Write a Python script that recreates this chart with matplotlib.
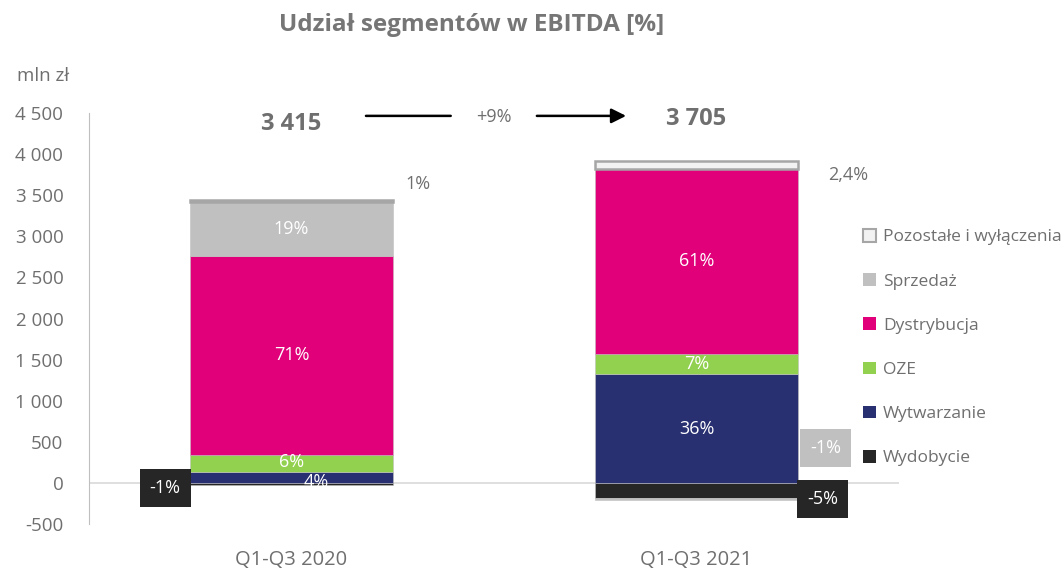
import matplotlib.pyplot as plt
from matplotlib.patches import Patch

# Data (mln zł)
periods = ["Q1-Q3 2020", "Q1-Q3 2021"]
totals = ["3 415", "3 705"]
growth = "+9%"

segments = ["Wydobycie", "Wytwarzanie", "OZE", "Dystrybucja", "Sprzedaż", "Pozostałe i wyłączenia"]
wydobycie = [-30, -180]
wytwarzanie = [130, 1320]
oze = [210, 250]
dystrybucja = [2425, 2250]
sprzedaz = [650, -25]
pozostale = [30, 90]

shares = {
    "Wydobycie": ["-1%", "-5%"],
    "Wytwarzanie": ["4%", "36%"],
    "OZE": ["6%", "7%"],
    "Dystrybucja": ["71%", "61%"],
    "Sprzedaż": ["19%", "-1%"],
    "Pozostałe i wyłączenia": ["1%", "2,4%"],
}

yticks = [-500, 0, 500, 1000, 1500, 2000, 2500, 3000, 3500, 4000, 4500]

# Style
FONT = "Open Sans"
TXT = "#6f6f6f"
COLORS = {
    "Wydobycie": "#262626",
    "Wytwarzanie": "#283071",
    "OZE": "#92D050",
    "Dystrybucja": "#E2007A",
    "Sprzedaż": "#C0C0C0",
    "Pozostałe i wyłączenia": "#F2F2F2",
}
BAR_W = 0.5
FS = 13

plt.rcParams["font.family"] = [FONT, "DejaVu Sans"]

fig = plt.figure(figsize=(10.64, 5.69), dpi=100)
ax = fig.add_axes([89 / 1064, 1 - 524 / 569, (899 - 89) / 1064, (524 - 113) / 569])

values = [wydobycie, wytwarzanie, oze, dystrybucja, sprzedaz, pozostale]
x = list(range(len(periods)))
pos_cum = [0.0] * len(periods)
neg_cum = [0.0] * len(periods)
mids = {}
for name, vals in zip(segments, values):
    bottoms = []
    for i, v in enumerate(vals):
        if v >= 0:
            bottoms.append(pos_cum[i])
            pos_cum[i] += v
        else:
            bottoms.append(neg_cum[i])
            neg_cum[i] += v
    mids[name] = [b + v / 2 for b, v in zip(bottoms, vals)]
    if name == "Pozostałe i wyłączenia":
        ax.bar(x, vals, BAR_W, bottom=bottoms, color=COLORS[name],
               edgecolor="#A6A6A6", linewidth=1.8, zorder=3)
    else:
        ax.bar(x, vals, BAR_W, bottom=bottoms, color=COLORS[name],
               edgecolor="#BFBFBF", linewidth=0.4, zorder=3)

# labels inside the bars
inside = [("Wytwarzanie", 1), ("OZE", 1), ("Dystrybucja", 0), ("Dystrybucja", 1),
          ("Sprzedaż", 0)]
for name, i in inside:
    ax.text(x[i], mids[name][i], shares[name][i], color="white", fontsize=FS,
            ha="center", va="center", zorder=5)
ax.annotate(shares["OZE"][0], (x[0], mids["OZE"][0]), xytext=(0, 1),
            textcoords="offset points", color="white", fontsize=FS,
            ha="center", va="center", zorder=5)
ax.annotate(shares["Wytwarzanie"][0], (x[0], mids["Wytwarzanie"][0]), xytext=(18, -3),
            textcoords="offset points", color="white", fontsize=FS,
            ha="center", va="center", zorder=5)

# small shares outside the bars
ax.annotate(shares["Pozostałe i wyłączenia"][0], (x[0] + BAR_W / 2, pos_cum[0]),
            xytext=(18, 11), textcoords="offset points", color=TXT, fontsize=FS,
            ha="center", va="center")
ax.annotate(shares["Pozostałe i wyłączenia"][1], (x[1] + BAR_W / 2, pos_cum[1]),
            xytext=(36, -10), textcoords="offset points", color=TXT, fontsize=FS,
            ha="center", va="center")

box = dict(boxstyle="square,pad=0.55", linewidth=0)
ax.annotate(shares["Wydobycie"][0], (x[0] - BAR_W / 2, mids["Wydobycie"][0]),
            xytext=(-18, -3), textcoords="offset points", color="white", fontsize=FS,
            ha="center", va="center", bbox={**box, "fc": COLORS["Wydobycie"]}, zorder=6)
ax.annotate(shares["Wydobycie"][1], (x[1] + BAR_W / 2, mids["Wydobycie"][1]),
            xytext=(18, -6), textcoords="offset points", color="white", fontsize=FS,
            ha="center", va="center", bbox={**box, "fc": COLORS["Wydobycie"]}, zorder=6)
ax.annotate(shares["Sprzedaż"][1], (x[1] + BAR_W / 2, 0),
            xytext=(20, 25), textcoords="offset points", color="white", fontsize=FS,
            ha="center", va="center", bbox={**box, "fc": COLORS["Sprzedaż"]}, zorder=6)

# totals and growth arrow
ax.text(x[0], 4370, totals[0], color=TXT, fontsize=17, fontweight="bold",
        ha="center", va="center")
ax.text(x[1], 4430, totals[1], color=TXT, fontsize=17, fontweight="bold",
        ha="center", va="center")
ax.annotate("", xy=(0.40, 4465), xytext=(0.177, 4465),
            arrowprops=dict(arrowstyle="-", color="black", lw=1.8))
ax.annotate("", xy=(0.833, 4465), xytext=(0.599, 4465),
            arrowprops=dict(arrowstyle="-|>", color="black", lw=1.8, mutation_scale=22))
ax.text(0.5, 4450, growth, color=TXT, fontsize=FS, ha="center", va="center")

# axes
ax.set_xlim(-0.5, 1.5)
ax.set_ylim(-500, 4500)
ax.set_yticks(yticks)
ax.set_yticklabels([f"{t:,}".replace(",", " ") for t in yticks])
ax.set_xticks(x)
ax.set_xticklabels(periods)
ax.tick_params(axis="y", length=0, pad=18.5, labelsize=13.5, labelcolor=TXT)
ax.tick_params(axis="x", length=0, pad=19, labelsize=14.5, labelcolor=TXT)
for s in ["top", "right", "bottom"]:
    ax.spines[s].set_visible(False)
ax.spines["left"].set_color("#BFBFBF")
ax.axhline(0, color="#D9D9D9", lw=1.2, zorder=2)

fig.text(17 / 1064, 1 - 76 / 569, "mln zł", color=TXT, fontsize=13.5, va="center")
fig.text(472 / 1064, 1 - 25 / 569, "Udział segmentów w EBITDA [%]", color="#767676",
         fontsize=17.5, fontweight="bold", ha="center", va="center")

handles = []
for name in reversed(segments):
    if name == "Pozostałe i wyłączenia":
        handles.append(Patch(fc=COLORS[name], ec="#A6A6A6", lw=1.5, label=name))
    else:
        handles.append(Patch(fc=COLORS[name], ec="none", label=name))
fig.legend(handles=handles, loc="upper left", bbox_to_anchor=(863 / 1064, 1 - 229 / 569),
           frameon=False, fontsize=12.5, labelcolor=TXT, handlelength=0.75, handleheight=0.75,
           handletextpad=0.4, labelspacing=1.6, borderpad=0, borderaxespad=0)

fig.savefig("out.png", dpi=100)
